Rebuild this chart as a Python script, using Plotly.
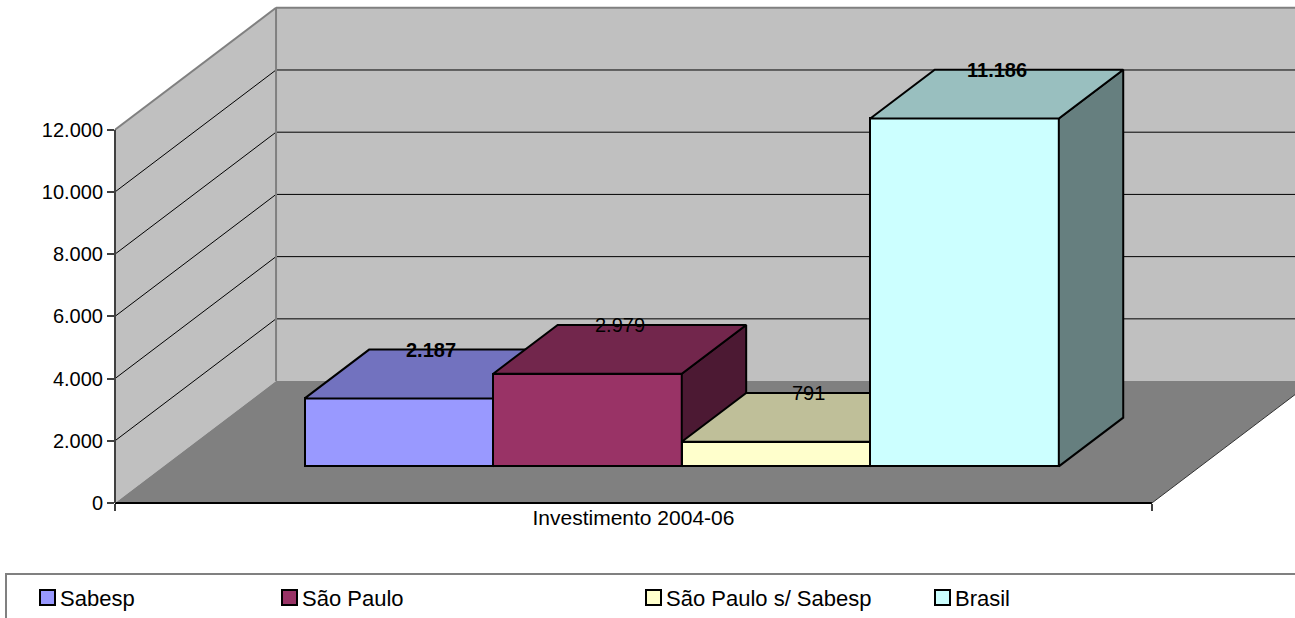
import plotly.graph_objects as go

# data
series = ["Sabesp", "São Paulo", "São Paulo s/ Sabesp", "Brasil"]
values = [2187, 2979, 791, 11186]
category = "Investimento 2004-06"
y_ticks = [0, 2000, 4000, 6000, 8000, 10000, 12000]

front_colors = ["#9999ff", "#993366", "#ffffcc", "#ccffff"]
label_bold = [True, False, False, True]

FONT = "Liberation Sans, Arial, sans-serif"

# fake 3d projection (excel style), in axis units
Y_MAX = 12000
DEPTH_X = 0.1553   # floor depth along x, in category widths
DEPTH_Y = 3920     # floor depth along y, in value units
FRONT = 0.3        # bar front face position inside the depth
BAR_DEPTH = 0.4    # bar depth as share of floor depth
GAP = 1.5          # excel gap width (x bar width)
X_MAX = 1.138
Y_TOP = 16170

W, H = 1295, 618
ML, MB = 115, 115


def shade(c, f):
    c = c.lstrip("#")
    r, g, b = (int(c[i:i + 2], 16) for i in (0, 2, 4))
    return "#%02x%02x%02x" % (int(r * f), int(g * f), int(b * f))


def px(x):
    return (x - ML) / (W - ML)


def py(y):
    return (H - MB - y) / (H - MB)


lift_x = FRONT * DEPTH_X
lift_y = FRONT * DEPTH_Y
bd_x = BAR_DEPTH * DEPTH_X
bd_y = BAR_DEPTH * DEPTH_Y
bw = 1 / (len(series) + GAP)
xc = 0.5 + lift_x

fig = go.Figure()
annotations = []

for i, (name, v, col) in enumerate(zip(series, values, front_colors)):
    ax = "x" if i == 0 else "x%d" % (i + 1)
    ay = "y" if i == 0 else "y%d" % (i + 1)
    off = -len(series) * bw / 2 + i * bw
    xl = xc + off
    xr = xl + bw
    top = lift_y + v
    fig.add_trace(go.Bar(
        x=[xc], y=[v], base=[lift_y], width=[bw], offset=[off],
        marker=dict(color=col, line=dict(color="black", width=2)),
        xaxis=ax, yaxis=ay, showlegend=False, name=name))
    # side face
    fig.add_trace(go.Scatter(
        x=[xr, xr, xr + bd_x, xr + bd_x, xr], y=[lift_y, top, top + bd_y, lift_y + bd_y, lift_y],
        mode="lines", fill="toself", fillcolor=shade(col, 0.5),
        line=dict(color="black", width=2), xaxis=ax, yaxis=ay, showlegend=False, hoverinfo="skip"))
    # top face
    fig.add_trace(go.Scatter(
        x=[xl, xr, xr + bd_x, xl + bd_x, xl], y=[top, top, top + bd_y, top + bd_y, top],
        mode="lines", fill="toself", fillcolor=shade(col, 0.75),
        line=dict(color="black", width=2), xaxis=ax, yaxis=ay, showlegend=False, hoverinfo="skip"))
    annotations.append(dict(
        x=xl + bw / 2 + bd_x / 2, y=top + bd_y, xref="x", yref="y",
        text=("<b>%s</b>" if label_bold[i] else "%s") % f"{v:,}".replace(",", "."),
        showarrow=False, font=dict(size=20, color="black", family=FONT)))

shapes = []
wall = "#c0c0c0"
edge = "#808080"
# walls and floor
shapes.append(dict(type="path", layer="below", xref="x", yref="y",
                   path=f"M0,0 L0,{Y_MAX} L{DEPTH_X},{Y_MAX + DEPTH_Y} L{DEPTH_X},{DEPTH_Y} Z",
                   fillcolor=wall, line=dict(width=0)))
shapes.append(dict(type="rect", layer="below", xref="x", yref="y",
                   x0=DEPTH_X, x1=X_MAX + DEPTH_X, y0=DEPTH_Y, y1=Y_MAX + DEPTH_Y,
                   fillcolor=wall, line=dict(width=0)))
shapes.append(dict(type="path", layer="below", xref="x", yref="y",
                   path=f"M0,0 L1,0 L{1 + DEPTH_X},{DEPTH_Y} L{DEPTH_X},{DEPTH_Y} Z",
                   fillcolor="#808080", line=dict(width=0)))
# gridlines
for g in y_ticks[1:-1]:
    shapes.append(dict(type="line", layer="below", xref="x", yref="y",
                       x0=0, y0=g, x1=DEPTH_X, y1=g + DEPTH_Y, line=dict(color="black", width=1)))
    shapes.append(dict(type="line", layer="below", xref="x", yref="y",
                       x0=DEPTH_X, y0=g + DEPTH_Y, x1=X_MAX + DEPTH_X, y1=g + DEPTH_Y,
                       line=dict(color="black", width=1)))
# wall edges
shapes.append(dict(type="line", layer="below", xref="x", yref="y",
                   x0=0, y0=Y_MAX, x1=DEPTH_X, y1=Y_MAX + DEPTH_Y, line=dict(color=edge, width=2)))
shapes.append(dict(type="line", layer="below", xref="x", yref="y",
                   x0=DEPTH_X, y0=DEPTH_Y, x1=DEPTH_X, y1=Y_MAX + DEPTH_Y, line=dict(color=edge, width=2)))
shapes.append(dict(type="line", layer="below", xref="x", yref="y",
                   x0=DEPTH_X, y0=Y_MAX + DEPTH_Y, x1=X_MAX + DEPTH_X, y1=Y_MAX + DEPTH_Y,
                   line=dict(color=edge, width=2)))
shapes.append(dict(type="line", layer="below", xref="x", yref="y",
                   x0=1, y0=0, x1=1 + DEPTH_X, y1=DEPTH_Y, line=dict(color="#333333", width=1)))
# axis lines
shapes.append(dict(type="line", xref="x", yref="paper", x0=0, x1=1, y0=0, y1=0,
                   line=dict(color="black", width=2)))
shapes.append(dict(type="line", xref="paper", yref="y", x0=0, x1=0, y0=0, y1=Y_MAX,
                   line=dict(color="#404040", width=2)))

# legend box
shapes.append(dict(type="rect", xref="paper", yref="paper",
                   x0=px(6), x1=px(1310), y0=py(574), y1=py(640),
                   line=dict(color=edge, width=2), fillcolor="rgba(0,0,0,0)"))
legend_x = [40, 282, 646, 935]
for name, col, lx in zip(series, front_colors, legend_x):
    shapes.append(dict(type="rect", xref="paper", yref="paper",
                       x0=px(lx), x1=px(lx + 15), y0=py(590), y1=py(605),
                       fillcolor=col, line=dict(color="black", width=2)))
    annotations.append(dict(x=px(lx + 18), y=py(598), xref="paper", yref="paper",
                            text=name, showarrow=False, xanchor="left", yanchor="middle",
                            font=dict(size=22, color="black", family=FONT)))

axis_common = dict(showgrid=False, zeroline=False)
layout = dict(
    width=W, height=H,
    margin=dict(l=ML, r=0, t=0, b=MB),
    paper_bgcolor="white", plot_bgcolor="rgba(0,0,0,0)",
    separators=",.",
    font=dict(family=FONT, color="black"),
    bargap=0,
    shapes=shapes, annotations=annotations,
    xaxis=dict(range=[0, X_MAX], tickvals=[0.5], ticktext=[category], ticks="",
               tickfont=dict(size=21), showline=False,
               minor=dict(tickvals=[0, 1], ticks="outside", ticklen=7, tickcolor="#404040", tickwidth=1.5),
               **axis_common),
    yaxis=dict(range=[0, Y_TOP], tickvals=y_ticks, tickformat=",d", ticks="outside",
               ticklen=7, tickcolor="#404040", tickwidth=1.5, tickfont=dict(size=20),
               showline=False, **axis_common),
)
for i in range(2, len(series) + 1):
    layout["xaxis%d" % i] = dict(overlaying="x", matches="x", visible=False, **axis_common)
    layout["yaxis%d" % i] = dict(overlaying="y", matches="y", visible=False, **axis_common)

fig.update_layout(**layout)
fig.write_html("out.html", config={"displayModeBar": False},
               post_script="document.body.style.margin='0';")
